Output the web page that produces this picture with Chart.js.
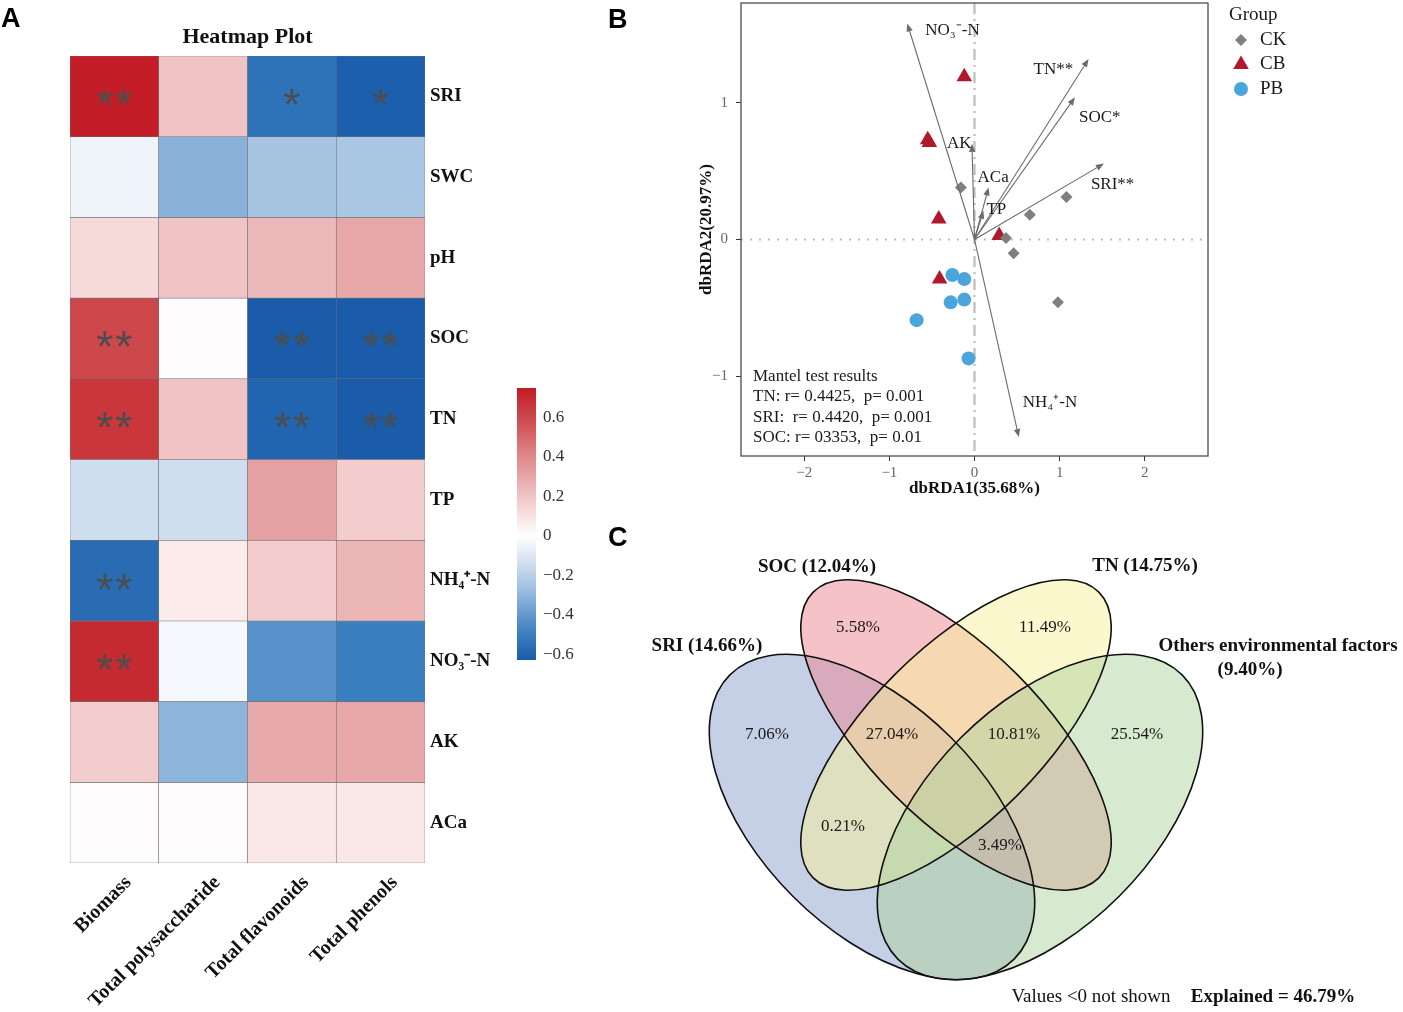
<!DOCTYPE html>
<html>
<head>
<meta charset="utf-8">
<script src="https://cdn.jsdelivr.net/npm/chart.js@4.4.0/dist/chart.umd.min.js"></script>
<style>
  body { margin: 0; background: #fff; width: 1403px; height: 1012px; position: relative; overflow: hidden; }
  canvas { position: absolute; }
  .tag { position: absolute; font: bold 27px "Liberation Sans", Arial, sans-serif; color: #000; line-height: 1; }
</style>
</head>
<body>
<canvas id="heat" width="600" height="1012" style="left:0;top:0"></canvas>
<canvas id="cbar" width="100" height="310" style="left:500px;top:370px"></canvas>
<canvas id="rda" width="803" height="506" style="left:600px;top:-6px"></canvas>
<canvas id="venn" width="800" height="472" style="left:600px;top:540px"></canvas>
<div class="tag" style="left:1px;top:5px">A</div>
<div class="tag" style="left:608px;top:6px">B</div>
<div class="tag" style="left:608px;top:524px">C</div>
<script>
// ---- A : heatmap ----
const heatCols = ['Biomass', 'Total polysaccharide', 'Total flavonoids', 'Total phenols'];
const heatRows = ['SRI', 'SWC', 'pH', 'SOC', 'TN', 'TP', 'NH\u2084\u207A-N', 'NO\u2083\u207B-N', 'AK', 'ACa'];
const heatValues = [
  [0.74, 0.20, -0.55, -0.62],
  [-0.05, -0.32, -0.25, -0.24],
  [0.13, 0.20, 0.24, 0.30],
  [0.60, 0.01, -0.63, -0.63],
  [0.66, 0.20, -0.60, -0.63],
  [-0.14, -0.14, 0.32, 0.17],
  [-0.57, 0.07, 0.17, 0.25],
  [0.70, -0.03, -0.43, -0.50],
  [0.17, -0.31, 0.29, 0.30],
  [0.01, 0.01, 0.08, 0.08]
];
const heatStars = [
  ['**', '', '*', '*'],
  ['', '', '', ''],
  ['', '', '', ''],
  ['**', '', '**', '**'],
  ['**', '', '**', '**'],
  ['', '', '', ''],
  ['**', '', '', ''],
  ['**', '', '', ''],
  ['', '', '', ''],
  ['', '', '', '']
];
const cbarTicks = [-0.6, -0.4, -0.2, 0, 0.2, 0.4, 0.6];

// colour scale (value -> rgb)
const stopValues = [-0.63, -0.5, -0.4, -0.3, -0.2, -0.1, 0, 0.1, 0.2, 0.3, 0.4, 0.5, 0.6, 0.75];
const stopColors = [
  [26, 92, 170], [58, 127, 192], [100, 152, 206], [146, 183, 220], [185, 208, 232], [222, 232, 244],
  [255, 255, 255], [249, 226, 226], [240, 196, 197], [231, 166, 167], [223, 137, 140], [214, 104, 108],
  [205, 72, 75], [194, 27, 36]
];

// ---- B : dbRDA ----
const ckX = [-0.16, 0.65, 1.08, 0.37, 0.46, 0.98];
const ckY = [0.38, 0.18, 0.31, 0.01, -0.10, -0.46];
const cbX = [-0.12, -0.53, -0.55, -0.42, -0.41, 0.29];
const cbY = [1.19, 0.71, 0.73, 0.15, -0.29, 0.03];
const pbX = [-0.26, -0.12, -0.28, -0.12, -0.68, -0.07];
const pbY = [-0.26, -0.29, -0.46, -0.44, -0.59, -0.87];
const envNames = ['NO\u2083\u207B-N', 'TN**', 'SOC*', 'SRI**', 'AK', 'ACa', 'TP', 'NH\u2084\u207A-N'];
const envX = [-0.79, 1.34, 1.18, 1.52, -0.03, 0.165, 0.105, 0.52];
const envY = [1.58, 1.32, 1.04, 0.555, 0.70, 0.38, 0.21, -1.445];
const mantelLines = ['Mantel test results', 'TN: r= 0.4425,  p= 0.001', 'SRI:  r= 0.4420,  p= 0.001', 'SOC: r= 03353,  p= 0.01'];
const rdaXTicks = [-2, -1, 0, 1, 2];
const rdaYTicks = [-1, 0, 1];

// ---- C : Venn ----
const vennSets = ['SRI (14.66%)', 'SOC (12.04%)', 'TN (14.75%)', 'Others environmental factors'];
const vennRegionLabels = ['5.58%', '11.49%', '7.06%', '27.04%', '10.81%', '25.54%', '0.21%', '3.49%'];
const vennExplained = 'Explained = 46.79%';

const SERIF = '"Liberation Serif", "Times New Roman", serif';
Chart.defaults.font.family = SERIF;
Chart.defaults.color = '#222';
Chart.defaults.animation = false;

function heatColor(v) {
  if (v <= stopValues[0]) return 'rgb(' + stopColors[0].join(',') + ')';
  for (let k = 1; k < stopValues.length; k++) {
    if (v <= stopValues[k]) {
      const t = (v - stopValues[k - 1]) / (stopValues[k] - stopValues[k - 1]);
      const c = stopColors[k - 1].map((a, n) => Math.round(a + (stopColors[k][n] - a) * t));
      return 'rgb(' + c.join(',') + ')';
    }
  }
  return 'rgb(' + stopColors[stopColors.length - 1].join(',') + ')';
}
const minus = v => (v < 0 ? '\u2212' + Math.abs(v) : String(v));

// stars + title for the heatmap
const heatExtras = {
  id: 'heatExtras',
  afterDatasetsDraw(chart) {
    const ctx = chart.ctx;
    ctx.save();
    ctx.fillStyle = '#4d4d4d';
    ctx.font = '44px "Liberation Sans", Arial, sans-serif';
    ctx.textAlign = 'center';
    ctx.textBaseline = 'alphabetic';
    heatStars.forEach((row, i) => row.forEach((s, j) => {
      if (!s) return;
      const el = chart.getDatasetMeta(i).data[j];
      const cy = (el.y + el.base) / 2;
      for (let k = 0; k < s.length; k++) {
        ctx.fillText('*', el.x + (k - (s.length - 1) / 2) * 19, cy + 24);
      }
    }));
    const a = chart.chartArea;
    ctx.fillStyle = '#111';
    ctx.font = 'bold 22px ' + SERIF;
    ctx.textBaseline = 'middle';
    ctx.fillText('Heatmap Plot', (a.left + a.right) / 2, 37);
    ctx.restore();
  }
};

new Chart(document.getElementById('heat'), {
  type: 'bar',
  data: {
    labels: heatCols,
    datasets: heatRows.map((r, i) => ({
      label: r,
      data: heatCols.map(() => [i, i + 1]),
      backgroundColor: heatValues[i].map(heatColor),
      borderColor: '#6f6f6f',
      borderWidth: 0.6,
      borderSkipped: false,
      barPercentage: 1,
      categoryPercentage: 1,
      grouped: false
    }))
  },
  options: {
    responsive: false,
    layout: { padding: { left: 70, top: 56, right: 0, bottom: 0 } },
    plugins: { legend: { display: false }, tooltip: { enabled: false } },
    scales: {
      x: {
        grid: { display: false, drawTicks: false }, border: { display: false },
        ticks: { color: '#111', font: { size: 20, weight: 'bold' }, minRotation: 45, maxRotation: 45, padding: 8, labelOffset: 14 },
        afterFit: s => { s.height = 149; }
      },
      y: {
        type: 'linear', min: 0, max: 10, reverse: true, position: 'right',
        grid: { display: false, drawTicks: false }, border: { display: false },
        afterBuildTicks: s => { s.ticks = heatRows.map((_, i) => ({ value: i + 0.5 })); },
        ticks: { color: '#111', font: { size: 19, weight: 'bold' }, padding: 5, callback: (v, i) => heatRows[i] },
        afterFit: s => { s.width = 175; }
      }
    }
  },
  plugins: [heatExtras]
});

// colour bar
const cbarFill = {
  id: 'cbarFill',
  beforeDatasetsDraw(chart) {
    const ctx = chart.ctx, a = chart.chartArea, y = chart.scales.y;
    const g = ctx.createLinearGradient(0, y.getPixelForValue(y.min), 0, y.getPixelForValue(y.max));
    stopValues.forEach((v, k) => {
      g.addColorStop((v - y.min) / (y.max - y.min), 'rgb(' + stopColors[k].join(',') + ')');
    });
    ctx.save();
    ctx.fillStyle = g;
    ctx.fillRect(a.left, a.top, a.right - a.left, a.bottom - a.top);
    ctx.restore();
  }
};
new Chart(document.getElementById('cbar'), {
  type: 'scatter',
  data: { datasets: [] },
  options: {
    responsive: false,
    layout: { padding: { left: 17, top: 18, bottom: 20, right: 0 } },
    plugins: { legend: { display: false }, tooltip: { enabled: false } },
    scales: {
      x: { display: false },
      y: {
        min: -0.63, max: 0.75, position: 'right',
        grid: { display: false, drawTicks: false }, border: { display: false },
        afterBuildTicks: s => { s.ticks = cbarTicks.map(v => ({ value: v })); },
        ticks: { color: '#333', font: { size: 17 }, padding: 7, callback: v => (v === 0 ? '0' : (v < 0 ? '\u2212' : '') + Math.abs(v).toFixed(1)) },
        afterFit: s => { s.width = 64; }
      }
    }
  },
  plugins: [cbarFill]
});

// ---- B ----
const rdaExtras = {
  id: 'rdaExtras',
  beforeDatasetsDraw(chart) {
    const ctx = chart.ctx, a = chart.chartArea, x = chart.scales.x, y = chart.scales.y;
    ctx.save();
    ctx.strokeStyle = '#bdbdbd';
    ctx.lineWidth = 2.2;
    ctx.setLineDash([2, 7]);
    ctx.beginPath();
    ctx.moveTo(a.left, y.getPixelForValue(0));
    ctx.lineTo(a.right, y.getPixelForValue(0));
    ctx.stroke();
    ctx.setLineDash([11, 5, 2, 5]);
    ctx.beginPath();
    ctx.moveTo(x.getPixelForValue(0), a.top);
    ctx.lineTo(x.getPixelForValue(0), a.bottom);
    ctx.stroke();
    ctx.restore();
  },
  afterDatasetsDraw(chart) {
    const ctx = chart.ctx, a = chart.chartArea, x = chart.scales.x, y = chart.scales.y;
    const ox = x.getPixelForValue(0), oy = y.getPixelForValue(0);
    const labelOff = [[18, 7], [-55, 10], [4, 20], [-13, 21], [-25, 0], [-11, -10], [3, -1], [4, -34]];
    ctx.save();
    ctx.strokeStyle = '#6b6b6b';
    ctx.fillStyle = '#6b6b6b';
    ctx.lineWidth = 1.1;
    envX.forEach((vx, i) => {
      const tx = x.getPixelForValue(vx), ty = y.getPixelForValue(envY[i]);
      const ang = Math.atan2(ty - oy, tx - ox);
      ctx.beginPath();
      ctx.moveTo(ox, oy);
      ctx.lineTo(tx - Math.cos(ang) * 5, ty - Math.sin(ang) * 5);
      ctx.stroke();
      ctx.beginPath();
      ctx.moveTo(tx, ty);
      ctx.lineTo(tx - Math.cos(ang) * 8 + Math.sin(ang) * 3.2, ty - Math.sin(ang) * 8 - Math.cos(ang) * 3.2);
      ctx.lineTo(tx - Math.cos(ang) * 8 - Math.sin(ang) * 3.2, ty - Math.sin(ang) * 8 + Math.cos(ang) * 3.2);
      ctx.closePath();
      ctx.fill();
    });
    ctx.fillStyle = '#1a1a1a';
    ctx.font = '17px ' + SERIF;
    ctx.textAlign = 'left';
    ctx.textBaseline = 'middle';
    envNames.forEach((n, i) => {
      const tx = x.getPixelForValue(envX[i]), ty = y.getPixelForValue(envY[i]);
      ctx.fillText(n, tx + labelOff[i][0], ty + labelOff[i][1]);
    });
    const gap = [79, 59, 38, 18];
    mantelLines.forEach((t, i) => ctx.fillText(t, a.left + 12, a.bottom - gap[i]));
    ctx.strokeStyle = '#4d4d4d';
    ctx.lineWidth = 1.3;
    ctx.strokeRect(a.left, a.top, a.right - a.left, a.bottom - a.top);
    // legend (canvas sits 6px above the page top)
    ctx.font = '19px ' + SERIF;
    ctx.fillText('Group', 629, 21);
    chart.data.datasets.forEach((d, i) => {
      const ly = 46 + i * 24.5;
      ctx.fillStyle = d.backgroundColor;
      Chart.helpers.drawPoint(ctx, { pointStyle: d.pointStyle, radius: d.pointRadius, rotation: 0, borderWidth: 0 }, 641, ly);
      ctx.fillStyle = '#1a1a1a';
      ctx.fillText(d.label, 660, ly);
    });
    ctx.restore();
  }
};

new Chart(document.getElementById('rda'), {
  type: 'scatter',
  data: {
    datasets: [
      { label: 'CK', data: ckX.map((v, i) => ({ x: v, y: ckY[i] })), pointStyle: 'rectRot', pointRadius: 6, backgroundColor: '#7f7f7f', borderWidth: 0 },
      { label: 'CB', data: cbX.map((v, i) => ({ x: v, y: cbY[i] })), pointStyle: 'triangle', pointRadius: 9, backgroundColor: '#b2182b', borderWidth: 0 },
      { label: 'PB', data: pbX.map((v, i) => ({ x: v, y: pbY[i] })), pointStyle: 'circle', pointRadius: 7, backgroundColor: '#4ba5dd', borderWidth: 0 }
    ]
  },
  options: {
    responsive: false,
    layout: { padding: { left: 95, top: 3, right: 195, bottom: 0 } },
    plugins: { legend: { display: false }, tooltip: { enabled: false } },
    scales: {
      x: {
        min: -2.743, max: 2.743,
        grid: { drawOnChartArea: false, tickLength: 5, color: '#333' }, border: { display: false },
        afterBuildTicks: s => { s.ticks = rdaXTicks.map(v => ({ value: v })); },
        ticks: { color: '#666', font: { size: 15 }, padding: 3, callback: v => minus(v) },
        title: { display: true, text: 'dbRDA1(35.68%)', color: '#111', font: { size: 17, weight: 'bold' }, padding: { top: 2, bottom: 1 } },
        afterFit: s => { s.height = 44; s.paddingLeft = 0; s.paddingRight = 0; }
      },
      y: {
        min: -1.584, max: 1.73,
        grid: { drawOnChartArea: false, tickLength: 5, color: '#333' }, border: { display: false },
        afterBuildTicks: s => { s.ticks = rdaYTicks.map(v => ({ value: v })); },
        ticks: { color: '#666', font: { size: 15 }, padding: 8, callback: v => minus(v) },
        title: { display: true, text: 'dbRDA2(20.97%)', color: '#111', font: { size: 17, weight: 'bold' }, padding: { top: 1, bottom: 1 } },
        afterFit: s => { s.width = 46; s.paddingTop = 0; s.paddingBottom = 0; }
      }
    }
  },
  plugins: [rdaExtras]
});

// ---- C ----
// ellipse geometry in venn units (x 0..1 across, y up)
const vennCx = [0.34, 0.445, 0.445, 0.55];
const vennCy = [0.24375, 0.34625, 0.34625, 0.24375];
const vennA = [0.25125, 0.2525, 0.2525, 0.25125];
const vennB = [0.14, 0.1075, 0.1075, 0.14];
const vennRot = [45, 45, -45, -45];
const vennFill = ['rgba(139,161,205,0.5)', 'rgba(235,133,145,0.5)', 'rgba(247,241,155,0.5)', 'rgba(175,211,160,0.5)'];
const vennSetX = [0.13375, 0.27125, 0.68125, 0.8475];
const vennSetY = [0.4575, 0.55625, 0.5575, 0.4575];
const vennRegX = [0.3225, 0.55625, 0.20875, 0.365, 0.5175, 0.67125, 0.30375, 0.5];
const vennRegY = [0.48, 0.48, 0.34625, 0.34625, 0.34625, 0.34625, 0.23125, 0.2075];

const vennDraw = {
  id: 'vennDraw',
  afterDraw(chart) {
    const ctx = chart.ctx, x = chart.scales.x, y = chart.scales.y;
    const unit = x.getPixelForValue(1) - x.getPixelForValue(0);
    ctx.save();
    vennCx.forEach((cx, i) => {
      ctx.beginPath();
      ctx.ellipse(x.getPixelForValue(cx), y.getPixelForValue(vennCy[i]), vennA[i] * unit, vennB[i] * unit, vennRot[i] * Math.PI / 180, 0, Math.PI * 2);
      ctx.fillStyle = vennFill[i];
      ctx.fill();
    });
    ctx.strokeStyle = '#111';
    ctx.lineWidth = 1.6;
    vennCx.forEach((cx, i) => {
      ctx.beginPath();
      ctx.ellipse(x.getPixelForValue(cx), y.getPixelForValue(vennCy[i]), vennA[i] * unit, vennB[i] * unit, vennRot[i] * Math.PI / 180, 0, Math.PI * 2);
      ctx.stroke();
    });
    ctx.textAlign = 'center';
    ctx.textBaseline = 'middle';
    ctx.fillStyle = '#1a1a1a';
    ctx.font = '17px ' + SERIF;
    vennRegionLabels.forEach((t, i) => ctx.fillText(t, x.getPixelForValue(vennRegX[i]), y.getPixelForValue(vennRegY[i])));
    ctx.fillStyle = '#111';
    ctx.font = 'bold 19px ' + SERIF;
    vennSets.forEach((t, i) => ctx.fillText(t, x.getPixelForValue(vennSetX[i]), y.getPixelForValue(vennSetY[i])));
    ctx.fillText('(9.40%)', x.getPixelForValue(0.8125), y.getPixelForValue(0.4275));
    ctx.fillText(vennExplained, x.getPixelForValue(0.84125), y.getPixelForValue(0.01875));
    ctx.font = '19px ' + SERIF;
    ctx.fillText('Values <0 not shown', x.getPixelForValue(0.61375), y.getPixelForValue(0.01875));
    ctx.restore();
  }
};
new Chart(document.getElementById('venn'), {
  type: 'scatter',
  data: { datasets: [] },
  options: {
    responsive: false,
    layout: { padding: 0 },
    plugins: { legend: { display: false }, tooltip: { enabled: false } },
    scales: {
      x: { display: false, min: 0, max: 1 },
      y: { display: false, min: 0, max: 0.59 }
    }
  },
  plugins: [vennDraw]
});
</script>
</body>
</html>
